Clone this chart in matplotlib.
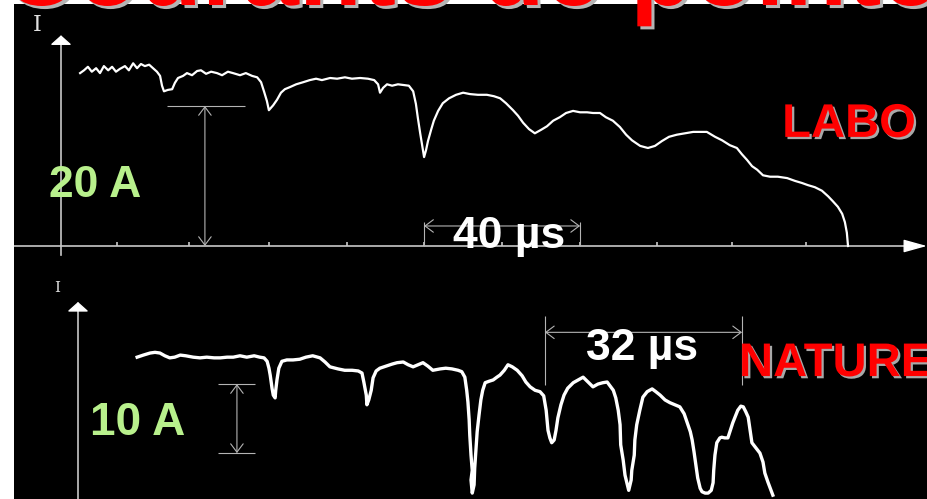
import matplotlib.pyplot as plt
import matplotlib.patheffects as pe
from matplotlib.patches import Rectangle

plt.rcParams['font.family'] = ['Liberation Sans', 'DejaVu Sans']

# LABO record: time (us) and current (A)
labo_t = [4.9, 5.9, 6.9, 7.9, 9.0, 10.0, 11.0, 12.1, 13.1, 14.1,
          15.1, 16.4, 17.4, 18.5, 19.5, 20.5, 21.5, 22.6, 23.6, 24.6,
          25.4, 25.9, 26.4, 27.4, 28.5, 29.2, 30.0, 31.3, 32.3, 33.6,
          34.9, 35.9, 37.2, 38.5, 40.0, 41.3, 42.8, 44.1, 45.9, 47.4,
          49.0, 50.3, 51.3, 52.1, 52.8, 53.3, 54.4, 55.4, 56.4, 57.4,
          58.7, 60.3, 62.1, 63.8, 65.4, 66.9, 69.0, 70.8, 72.8, 74.6,
          76.7, 78.7, 80.3, 81.3, 81.8, 82.6, 83.6, 84.9, 86.4, 87.9,
          89.2, 90.3, 91.0, 91.5, 92.1, 92.6, 93.1, 93.6, 94.1, 94.9,
          95.6, 96.7, 97.9, 99.5, 101.3, 103.1, 104.9, 106.9, 109.2, 111.0,
          112.6, 114.1, 115.9, 117.2, 118.5, 120.0, 121.5, 123.1, 124.6, 126.2,
          127.9, 129.5, 131.3, 133.1, 134.9, 136.4, 138.2, 139.7, 141.5, 143.3,
          144.9, 146.4, 148.5, 150.5, 152.3, 154.1, 155.9, 157.9, 160.0, 162.1,
          163.8, 165.6, 167.7, 169.5, 171.5, 173.3, 174.6, 175.9, 177.2, 178.5,
          180.0, 181.8, 183.8, 186.2, 188.2, 190.0, 191.5, 193.3, 195.1, 196.7,
          197.9, 199.2, 200.3, 201.0, 201.5, 201.8]
labo_i = [24.7, 25.1, 25.6, 24.9, 25.4, 24.7, 25.7, 25.1, 25.6, 24.9,
          25.3, 25.7, 25.1, 26.1, 25.4, 26.0, 25.7, 25.9, 25.4, 24.9,
          24.3, 22.9, 22.1, 22.3, 22.4, 23.3, 24.0, 24.3, 24.7, 24.4,
          25.0, 25.1, 24.6, 24.9, 24.7, 24.4, 24.9, 24.7, 24.4, 24.7,
          24.3, 24.1, 23.4, 22.0, 20.7, 19.4, 20.1, 20.9, 21.9, 22.4,
          22.7, 23.1, 23.4, 23.7, 23.9, 23.7, 24.0, 23.9, 24.1, 23.9,
          24.0, 23.9, 23.7, 23.1, 21.9, 22.6, 23.1, 22.9, 23.1, 23.0,
          22.9, 22.1, 20.3, 18.3, 16.1, 14.4, 12.7, 13.7, 15.0, 16.6,
          17.9, 19.3, 20.4, 21.1, 21.6, 21.9, 21.7, 21.6, 21.6, 21.4,
          21.1, 20.4, 19.4, 18.6, 17.6, 16.7, 16.1, 16.6, 17.1, 17.9,
          18.4, 19.0, 19.3, 19.1, 19.1, 19.0, 19.0, 18.4, 17.9, 17.0,
          15.9, 15.1, 14.3, 14.0, 14.3, 15.0, 15.6, 15.9, 16.1, 16.3,
          16.3, 16.3, 15.6, 15.1, 14.4, 14.0, 13.1, 12.3, 11.4, 10.9,
          10.1, 9.9, 9.9, 9.7, 9.3, 9.0, 8.7, 8.4, 7.9, 7.1,
          6.4, 5.6, 4.6, 3.4, 1.9, 0.0]

# NATURE record: time (us) and current (A)
nat_t = [9.6, 10.6, 11.7, 12.5, 13.3, 14.1, 14.9, 15.7, 16.6, 17.5,
         18.7, 19.8, 20.9, 22.1, 23.1, 24.2, 25.2, 26.3, 27.4, 28.6,
         29.5, 30.2, 30.7, 31.0, 31.2, 31.5, 31.7, 32.0, 32.1, 32.3,
         32.6, 33.1, 33.9, 34.9, 36.0, 37.0, 38.1, 39.3, 40.1, 40.9,
         42.2, 43.3, 44.5, 45.5, 46.1, 46.4, 46.8, 46.9, 47.2, 47.6,
         47.9, 48.4, 49.0, 50.0, 51.0, 51.8, 52.8, 53.6, 54.4, 55.2,
         56.0, 56.8, 57.6, 58.8, 59.7, 60.7, 61.7, 62.3, 62.8, 63.1,
         63.3, 63.5, 63.6, 63.8, 64.0, 63.8, 64.0, 64.3, 64.4, 64.6,
         64.8, 65.1, 65.4, 65.7, 66.1, 66.7, 67.4, 68.0, 68.5, 69.2,
         69.8, 70.5, 71.3, 72.1, 72.7, 73.4, 74.2, 75.0, 75.6, 76.0,
         76.3, 76.6, 76.9, 77.3, 77.6, 77.9, 78.4, 78.9, 79.5, 80.4,
         81.2, 82.0, 82.8, 83.6, 84.4, 85.2, 85.9, 86.4, 86.9, 87.3,
         87.7, 88.0, 88.1, 88.5, 88.8, 89.1, 89.4, 89.8, 89.9, 90.3,
         90.4, 90.7, 91.2, 91.7, 92.4, 93.2, 93.8, 94.5, 95.3, 96.1,
         96.9, 97.7, 98.4, 98.9, 99.4, 99.7, 100.0, 100.3, 100.6, 101.0,
         101.3, 101.8, 102.3, 102.8, 103.1, 103.2, 103.4, 103.7, 104.2, 104.5,
         105.0, 105.5, 106.0, 106.3, 106.8, 107.1, 107.6, 108.0, 108.4, 108.8,
         109.1, 109.4, 110.1, 110.7, 111.2, 111.5, 112.0, 112.5, 112.8]
nat_i = [20.7, 21.0, 21.3, 21.4, 21.3, 20.9, 20.6, 20.7, 21.0, 20.9,
         20.7, 20.6, 20.7, 20.6, 20.6, 20.7, 20.7, 20.9, 20.7, 20.9,
         20.7, 20.6, 20.1, 19.1, 18.1, 16.2, 15.2, 14.8, 15.9, 17.4,
         19.1, 20.1, 20.3, 20.3, 20.4, 20.7, 20.9, 20.6, 20.0, 19.3,
         19.0, 18.8, 18.8, 18.7, 18.4, 17.1, 15.2, 13.8, 14.5, 15.9,
         17.7, 18.7, 19.1, 19.4, 19.7, 19.9, 20.0, 19.6, 19.3, 19.6,
         19.9, 19.4, 18.8, 19.0, 19.1, 19.0, 18.8, 18.6, 17.8, 15.9,
         14.2, 11.6, 9.4, 6.5, 4.3, 2.9, 1.0, 2.2, 4.6, 7.2,
         9.9, 12.3, 14.5, 15.9, 17.0, 17.2, 17.4, 17.8, 18.1, 18.8,
         19.6, 19.3, 18.8, 18.0, 17.1, 16.4, 15.9, 15.7, 15.1, 13.0,
         10.1, 9.0, 8.3, 8.7, 10.1, 11.9, 13.8, 15.2, 16.2, 17.0,
         17.4, 17.8, 17.1, 16.4, 16.8, 17.0, 17.1, 16.5, 15.9, 14.8,
         13.0, 10.9, 8.0, 5.8, 3.6, 2.5, 1.4, 2.9, 4.3, 6.5,
         8.7, 10.9, 13.0, 14.9, 15.7, 16.1, 15.7, 15.2, 14.5, 14.1,
         13.8, 13.5, 12.5, 11.2, 9.9, 8.7, 7.0, 5.1, 3.2, 1.7,
         1.2, 1.0, 1.0, 1.4, 2.5, 4.3, 6.5, 8.3, 9.0, 9.1,
         9.0, 9.0, 10.4, 11.2, 12.3, 13.0, 13.6, 13.5, 12.8, 12.0,
         10.1, 8.3, 7.5, 6.8, 5.5, 3.9, 2.6, 1.4, 0.7]

# time graduations of the LABO sweep (us)
labo_ticks = [14.4, 32.8, 53.3, 73.3, 93.1, 113.1, 133.1, 152.8, 172.1, 191.0]

# scale markers: (start, length)
labo_amp = (0.0, 20.0)     # A
labo_dur = (93.1, 40.0)    # us
nat_amp = (6.8, 10.0)      # A
nat_dur = (75.8, 32.0)     # us

TITLE = "Courants de pointe"
W, H = 927, 499
AXIS = '#c8c8c8'
DIM = '#b4b4b4'
GREEN = '#b8f08c'
RED = '#ff0000'


def panel(box, origin, scale):
    # box in pixels (left, top, right, bottom), origin = pixel of t=0, I=0
    x0, y0, x1, y1 = box
    ox, oy = origin
    sx, sy = scale
    ax = fig.add_axes([x0 / W, 1 - y1 / H, (x1 - x0) / W, (y1 - y0) / H])
    ax.set_xlim((x0 - ox) / sx, (x1 - ox) / sx)
    ax.set_ylim((oy - y1) / sy, (oy - y0) / sy)
    ax.set_axis_off()
    return ax


def head(ax, tip, tail, length, width):
    ax.annotate('', xy=tip, xytext=tail,
                arrowprops=dict(arrowstyle=f'-|>,head_length={length},head_width={width}',
                                color='white', lw=1.0, shrinkA=0, shrinkB=0,
                                mutation_scale=10))


def dimension(ax, a, b):
    ax.annotate('', xy=b, xytext=a,
                arrowprops=dict(arrowstyle='<->,head_length=0.6,head_width=0.45',
                                color=DIM, lw=0.8, shrinkA=0, shrinkB=0,
                                mutation_scale=10))


red_shadow = [pe.withSimplePatchShadow(offset=(1.6, -1.6), shadow_rgbFace='#a8a8a8', alpha=1.0)]

fig = plt.figure(figsize=(W / 100, H / 100), dpi=100, facecolor='white')
fig.add_artist(Rectangle((14 / W, 0), 1 - 14 / W, 1 - 4 / H, transform=fig.transFigure,
                         facecolor='black', edgecolor='none', zorder=-5))

fig.text(2 / W, 1 - 5 / H, TITLE, ha='left', va='baseline', fontsize=74,
         fontweight='bold', color=RED, zorder=10,
         path_effects=[pe.withSimplePatchShadow(offset=(2.2, -2.2),
                                                shadow_rgbFace='#b4b4b4', alpha=1.0)])

# ---- LABO panel ----
ax1 = panel((14, 4, 927, 262), (61, 246), (3.9, 7.0))
ax1.plot([0, 0], [-1.3, 29.2], color=AXIS, lw=1.2)
head(ax1, (0, 30.1), (0, 28.9), 0.58, 0.65)
ax1.plot([-12.1, 217.2], [0, 0], color=AXIS, lw=1.2)
head(ax1, (222.0, 0), (216.9, 0), 1.44, 0.4)
ax1.vlines(labo_ticks, 0, 0.6, color=AXIS, lw=1.2)
ax1.text(-6.2, 31.6, 'I', family='DejaVu Serif', fontsize=16, color='#e0e0e0',
         ha='center', va='center')

ax1.plot(labo_t, labo_i, color='white', lw=1.6, solid_joinstyle='round')

x_amp = 36.9
dimension(ax1, (x_amp, labo_amp[0]), (x_amp, labo_amp[0] + labo_amp[1]))
ax1.hlines(labo_amp[0] + labo_amp[1], 27.2, 47.2, color=DIM, lw=0.8)
ax1.text(8.7, 8.7, f'{labo_amp[1]:.0f} A', color=GREEN, fontsize=32,
         fontweight='bold', ha='center', va='center')

t0, dt = labo_dur
dimension(ax1, (t0, 2.86), (t0 + dt, 2.86))
ax1.vlines([t0, t0 + dt], 0, 3.4, color=DIM, lw=0.8)
ax1.text(t0 + dt / 2 + 1.9, 1.3, f'{dt:.0f} µs', color='white', fontsize=32,
         fontweight='bold', ha='center', va='center')

ax1.text(184.9, 17.3, 'LABO', color=RED, fontsize=34, fontweight='bold',
         ha='left', va='center', path_effects=red_shadow)

# ---- NATURE panel ----
ax2 = panel((14, 262, 927, 499), (78, 500), (6.16, 6.9))
ax2.plot([0, 0], [-1.0, 27.8], color=AXIS, lw=1.2)
head(ax2, (0, 28.7), (0, 27.5), 0.58, 0.65)
ax2.text(-3.4, 30.7, 'I', family='DejaVu Serif', fontsize=11, color='#e0e0e0',
         ha='center', va='center')

ax2.plot(nat_t, nat_i, color='white', lw=2.4, solid_joinstyle='round')

i0, di = nat_amp
dimension(ax2, (25.8, i0), (25.8, i0 + di))
ax2.hlines([i0, i0 + di], 22.7, 28.7, color=DIM, lw=0.8)
ax2.text(9.7, 11.2, f'{di:.0f} A', color=GREEN, fontsize=33,
         fontweight='bold', ha='center', va='center')

t0, dt = nat_dur
dimension(ax2, (t0, 24.3), (t0 + dt, 24.3))
ax2.vlines([t0, t0 + dt], 16.7, 26.7, color=DIM, lw=0.8)
ax2.text(t0 + dt / 2 - 0.3, 21.9, f'{dt:.0f} µs', color='white', fontsize=32,
         fontweight='bold', ha='center', va='center')

ax2.text(107.3, 19.7, 'NATURE', color=RED, fontsize=34, fontweight='bold',
         ha='left', va='center', path_effects=red_shadow)

fig.savefig('out.png', dpi=100, facecolor='white')
